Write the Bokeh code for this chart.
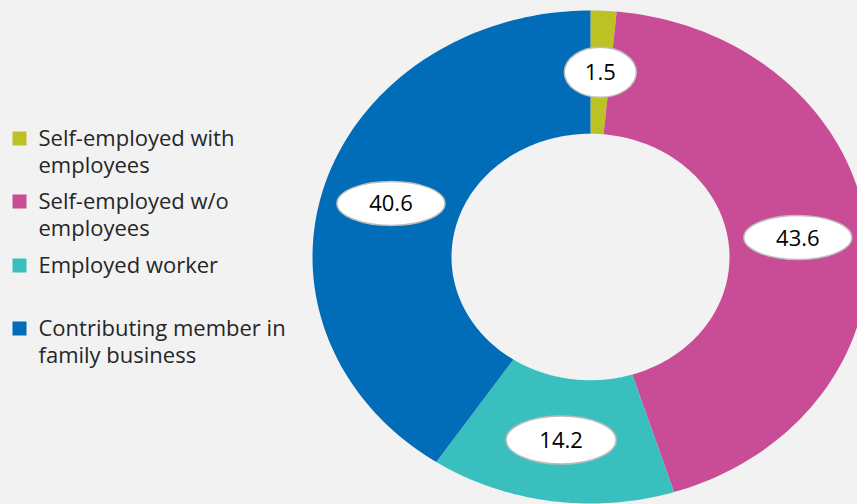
import numpy as np
from bokeh.plotting import figure
from bokeh.models import ColumnDataSource, Range1d, Label, BoxAnnotation
from bokeh.core.properties import value
from bokeh.embed import file_html
from bokeh.resources import INLINE

# ---- data ----
categories = ["Self-employed with employees", "Self-employed w/o employees",
              "Employed worker", "Contributing member in family business"]
category_lines = [["Self-employed with", "employees"],
                  ["Self-employed w/o", "employees"],
                  ["Employed worker"],
                  ["Contributing member in", "family business"]]
shares = [1.5, 43.6, 14.2, 40.6]
labels = ["1.5", "43.6", "14.2", "40.6"]

# ---- styles ----
colors = ["#bcc124", "#c84d96", "#3abfbf", "#016cb7"]
bg = "#f2f2f2"
label_w = [72, 108, 110, 108]
label_h = [50, 44, 48, 44]

W, H = 857, 504
cx_px, cy_px = 590, 256.5          # donut centre (pixels from top-left)
rx_px, ry_px = 278, 246.5          # outer radii in pixels
r_in, r_out, r_lab = 0.5, 1.0, 0.75

p = figure(width=W, height=H, output_backend="svg", toolbar_location=None,
           x_range=Range1d(-cx_px / rx_px, (W - cx_px) / rx_px),
           y_range=Range1d(-(H - cy_px) / ry_px, cy_px / ry_px),
           min_border=0, background_fill_color=bg, border_fill_color=bg,
           outline_line_color=None)
p.axis.visible = False
p.grid.visible = False

vals = np.array(shares, dtype=float)
total = vals.sum()
ends = np.cumsum(vals) / total * 2 * np.pi
starts = np.concatenate([[0.0], ends[:-1]])

xs, ys = [], []
for a0, a1 in zip(starts, ends):
    t = np.linspace(a0, a1, 120)
    x = np.concatenate([r_out * np.sin(t), r_in * np.sin(t[::-1])])
    y = np.concatenate([r_out * np.cos(t), r_in * np.cos(t[::-1])])
    xs.append(x.tolist())
    ys.append(y.tolist())

src = ColumnDataSource(dict(xs=xs, ys=ys, color=colors, cat=categories))
p.patches("xs", "ys", source=src, fill_color="color", line_color=None)

mid = (starts + ends) / 2
lsrc = ColumnDataSource(dict(x=(r_lab * np.sin(mid)).tolist(), y=(r_lab * np.cos(mid)).tolist(),
                             w=label_w, h=label_h, text=labels))
p.ellipse("x", "y", width="w", height="h", width_units="screen", height_units="screen",
          source=lsrc, fill_color="white", line_color="#bdbdbd", line_width=1.5)
p.text("x", "y", text="text", source=lsrc, text_align="center", text_baseline="middle",
       text_font=value("Open Sans"), text_font_size="22px", text_color="black")

# ---- legend (manual, first line aligned with swatch) ----
leg_top = [138, 201, 265, 328]     # swatch centres, px from top
line_gap = 27
sw = 14
for i, lines in enumerate(category_lines):
    c = leg_top[i]
    p.add_layout(BoxAnnotation(left=12, right=12 + sw, bottom=H - (c + sw / 2), top=H - (c - sw / 2),
                               left_units="screen", right_units="screen",
                               top_units="screen", bottom_units="screen",
                               fill_color=colors[i], fill_alpha=1.0, line_color=None))
    for j, ln in enumerate(lines):
        p.add_layout(Label(x=38, y=H - (c - 2 + j * line_gap), x_units="screen", y_units="screen",
                           text=ln, text_baseline="middle", text_align="left",
                           text_font="Open Sans", text_font_size="22px", text_color="#262626"))

html = file_html(p, INLINE)
html = html.replace("</head>", "<style>body{background:#f2f2f2;}</style></head>", 1)
open("out.html", "w").write(html)
